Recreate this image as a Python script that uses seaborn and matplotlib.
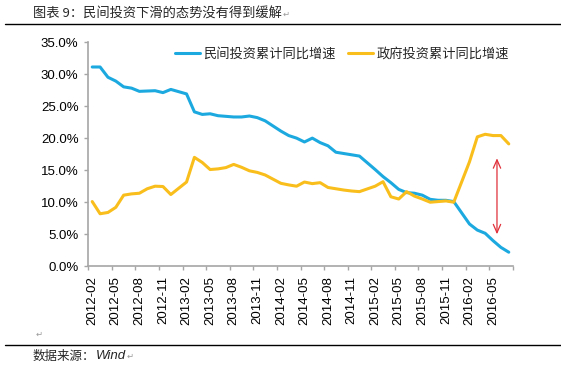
import matplotlib
matplotlib.use("Agg")
import matplotlib.pyplot as plt
import matplotlib.ticker as mtick
from matplotlib.lines import Line2D
import seaborn as sns
import pandas as pd

# months with data (Jan-Feb reported together, so no January points)
months = (
    [f"2012-{m:02d}" for m in range(2, 13)]
    + [f"2013-{m:02d}" for m in range(2, 13)]
    + [f"2014-{m:02d}" for m in range(2, 13)]
    + [f"2015-{m:02d}" for m in range(2, 13)]
    + [f"2016-{m:02d}" for m in range(2, 8)]
)

private_inv = [
    31.1, 31.1, 29.5, 28.9, 28.0, 27.8, 27.3, 27.35, 27.4, 27.1, 27.6,
    26.9, 24.1, 23.7, 23.8, 23.5, 23.4, 23.3, 23.3, 23.45, 23.2, 22.7,
    21.1, 20.4, 20.0, 19.4, 20.0, 19.3, 18.8, 17.8, 17.6, 17.4, 17.2,
    15.1, 14.0, 13.05, 12.0, 11.5, 11.4, 11.1, 10.45, 10.3, 10.3, 10.1,
    6.6, 5.65, 5.15, 4.0, 2.95, 2.2,
]
gov_inv = [
    10.1, 8.2, 8.4, 9.2, 11.1, 11.3, 11.4, 12.1, 12.5, 12.45, 11.2,
    13.15, 17.0, 16.2, 15.1, 15.2, 15.4, 15.9, 15.45, 14.9, 14.65, 14.25,
    12.95, 12.7, 12.5, 13.15, 12.9, 13.05, 12.3, 12.1, 11.9, 11.75, 11.65,
    12.5, 13.2, 10.85, 10.5, 11.65, 10.95, 10.5, 10.0, 10.1, 10.2, 10.0,
    16.3, 20.2, 20.6, 20.4, 20.4, 19.1,
]
series_names = ["民间投资累计同比增速", "政府投资累计同比增速"]
tick_months = [f"{y}-{m:02d}" for y in range(2012, 2017) for m in (2, 5, 8, 11)][:18]

title = "图表 9：民间投资下滑的态势没有得到缓解"
source_cn = "数据来源："
source_en = "Wind"

blue = "#1CA9E0"
yellow = "#F9BE1C"


def month_index(s):
    y, m = s.split("-")
    return (int(y) - 2012) * 12 + int(m) - 2


df = pd.DataFrame({
    "month": months * 2,
    "value": private_inv + gov_inv,
    "series": [series_names[0]] * len(months) + [series_names[1]] * len(months),
})
df["pos"] = df["month"].map(month_index) + 0.5

sns.set_theme(style="ticks")
plt.rcParams["font.family"] = ["Liberation Sans", "Noto Sans CJK SC", "DejaVu Sans"]

fig = plt.figure(figsize=(5.61, 3.72), dpi=100)
ax = fig.add_axes([88.3 / 561, 1 - 266.3 / 372, (512.7 - 88.3) / 561, (266.3 - 42) / 372])

sns.lineplot(data=df, x="pos", y="value", hue="series", palette=[blue, yellow],
             linewidth=2.2, ax=ax)

ax.set_xlim(0, 54)
ax.set_ylim(0, 35)
ax.set_yticks(range(0, 36, 5))
ax.yaxis.set_major_formatter(mtick.FuncFormatter(lambda v, p: f"{v:.1f}%"))

# labels centred on the month, tick marks on month boundaries
ax.set_xticks([month_index(t) + 0.5 for t in tick_months])
ax.set_xticklabels(tick_months, rotation=90)
ax.set_xticks(list(range(0, 55, 3)), minor=True)
ax.tick_params(axis="x", which="major", length=0, pad=7, labelsize=9.5, colors="black")
ax.tick_params(axis="x", which="minor", length=3, width=1, color="#A6A6A6")
ax.tick_params(axis="y", length=3, width=1, color="#A6A6A6", pad=4, labelsize=9.5,
               labelcolor="black")
ax.set_xlabel("")
ax.set_ylabel("")

sns.despine(ax=ax)
for side in ("left", "bottom"):
    ax.spines[side].set_color("#A6A6A6")
    ax.spines[side].set_linewidth(1.2)

# red gap arrow
ax.annotate("", xy=(52.0, 5.0), xytext=(52.0, 16.85),
            arrowprops=dict(arrowstyle="<->,head_length=0.5,head_width=0.22",
                            color="#E0303A", lw=0.9, mutation_scale=12,
                            shrinkA=0, shrinkB=0))

handles, labels = ax.get_legend_handles_labels()
ax.legend(handles, labels, ncol=2, frameon=False, loc="center left",
          bbox_to_anchor=(175 / 561, 1 - 54 / 372), bbox_transform=fig.transFigure,
          fontsize=9.5, handlelength=1.9, handletextpad=0.25, columnspacing=0.9,
          borderaxespad=0, borderpad=0)

# page furniture: title, rules, source
t = fig.text(33 / 561, 1 - 14 / 372, title, fontsize=9.5, va="center",
             family=["Noto Sans CJK SC", "DejaVu Sans"])
fig.add_artist(Line2D([5 / 561, 1], [1 - 23.5 / 372] * 2, transform=fig.transFigure,
                      color="black", lw=1))
fig.add_artist(Line2D([5 / 561, 1], [1 - 344.5 / 372] * 2, transform=fig.transFigure,
                      color="black", lw=1))
s1 = fig.text(33 / 561, 1 - 356 / 372, source_cn, fontsize=9, va="center",
              family=["Noto Sans CJK SC", "DejaVu Sans"])
fig.text(36 / 561, 1 - 334 / 372, "↵", fontsize=6, va="center", color="#999999",
         family=["DejaVu Sans"])

fig.canvas.draw()
bb = s1.get_window_extent()
s2 = fig.text(bb.x1 / fig.bbox.width, 1 - 356 / 372, source_en, fontsize=9.5,
              va="center", style="italic", family=["Liberation Sans"])
fig.canvas.draw()
for txt in (t, s2):
    bb = txt.get_window_extent()
    fig.text(bb.x1 / fig.bbox.width + 0.002, (bb.y0 + bb.y1) / 2 / fig.bbox.height, "↵",
             fontsize=6, va="center", color="#999999", family=["DejaVu Sans"])

fig.savefig("out.png", dpi=100)
